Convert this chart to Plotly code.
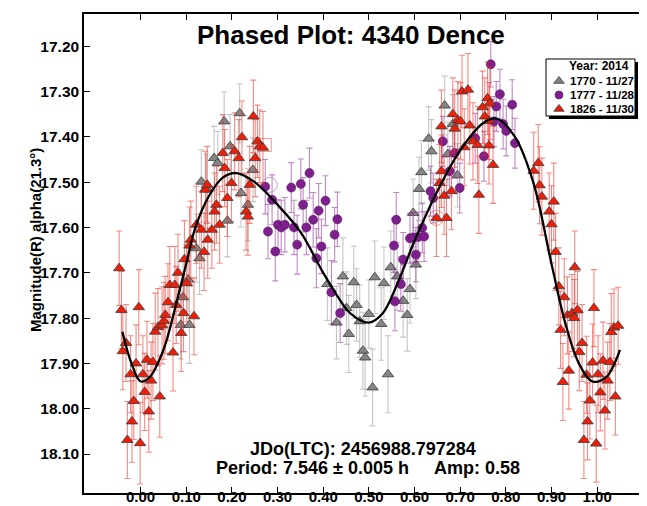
import plotly.graph_objects as go

# ---------------- data ----------------
gray_phase = [0.088, 0.093, 0.104, 0.107, 0.122, 0.129, 0.133, 0.144, 0.161, 0.169,
              0.183, 0.190, 0.196, 0.217, 0.220, 0.235, 0.246,
              0.409, 0.429, 0.443, 0.451, 0.456, 0.467, 0.473, 0.480, 0.487,
              0.492, 0.500, 0.508, 0.513, 0.527, 0.533, 0.542, 0.548, 0.562,
              0.575, 0.584, 0.590, 0.597, 0.603, 0.610, 0.615, 0.631, 0.637,
              0.666, 0.673, 0.684, 0.694]
gray_mag = [17.815, 17.754, 17.715, 17.815, 17.646, 17.668, 17.499, 17.513, 17.447, 17.458,
            17.366, 17.585, 17.421, 17.348, 17.524, 17.550, 17.473,
            17.725, 17.810, 17.708, 17.778, 17.835, 17.721, 17.771, 17.807, 17.872,
            17.887, 17.791, 17.953, 17.710, 17.813, 17.723, 17.924, 17.688, 17.708,
            17.762, 17.793, 17.736, 17.568, 17.682, 17.515, 17.478, 17.404, 17.432,
            17.331, 17.438, 17.372, 17.485]
gray_err = [0.075, 0.080, 0.070, 0.085, 0.075, 0.080, 0.070, 0.075, 0.070, 0.070,
            0.065, 0.080, 0.070, 0.065, 0.075, 0.080, 0.070,
            0.080, 0.080, 0.085, 0.080, 0.085, 0.080, 0.080, 0.080, 0.085,
            0.085, 0.075, 0.085, 0.080, 0.080, 0.080, 0.085, 0.080, 0.075,
            0.080, 0.080, 0.075, 0.075, 0.075, 0.070, 0.070, 0.070, 0.070,
            0.065, 0.070, 0.065, 0.070]

purple_phase = [0.273, 0.279, 0.288, 0.295, 0.301, 0.308, 0.316, 0.330, 0.336, 0.343,
                0.351, 0.356, 0.363, 0.370, 0.378, 0.385, 0.390, 0.396, 0.405, 0.418,
                0.425, 0.431, 0.437,
                0.555, 0.557, 0.560, 0.570, 0.575, 0.590, 0.597, 0.603, 0.608, 0.617,
                0.621, 0.635, 0.641, 0.662, 0.677, 0.688, 0.699, 0.733, 0.752, 0.767,
                0.774, 0.779, 0.787, 0.794, 0.801, 0.814, 0.820]
purple_mag = [17.510, 17.609, 17.539, 17.653, 17.594, 17.600, 17.594, 17.512, 17.600, 17.638,
              17.504, 17.550, 17.600, 17.480, 17.583, 17.668, 17.563, 17.642, 17.541, 17.743,
              17.616, 17.582, 17.789,
              17.640, 17.763, 17.583, 17.725, 17.671, 17.624, 17.622, 17.660, 17.621, 17.601,
              17.620, 17.520, 17.535, 17.410, 17.476, 17.436, 17.513, 17.403, 17.443, 17.240,
              17.366, 17.333, 17.306, 17.372, 17.387, 17.329, 17.414]
purple_err = [0.060, 0.060, 0.055, 0.065, 0.055, 0.060, 0.060, 0.055, 0.060, 0.065,
              0.055, 0.060, 0.060, 0.055, 0.060, 0.065, 0.060, 0.060, 0.055, 0.070,
              0.060, 0.060, 0.065,
              0.060, 0.065, 0.060, 0.060, 0.060, 0.055, 0.055, 0.060, 0.055, 0.055,
              0.055, 0.055, 0.055, 0.055, 0.055, 0.055, 0.055, 0.055, 0.055, 0.050,
              0.055, 0.055, 0.055, 0.055, 0.055, 0.055, 0.055]

red_phase = [-0.047, -0.042, -0.039, -0.032, -0.029, -0.022, -0.019, -0.015, -0.010, -0.004,
             -0.001, 0.005, 0.009, 0.014, 0.018, 0.023, 0.027, 0.032, 0.038, 0.042,
             0.047, 0.051, 0.054, 0.060, 0.064, 0.071, 0.075, 0.078, 0.082, 0.089,
             0.094, 0.096, 0.101, 0.107, 0.110, 0.117, 0.122, 0.133, 0.139, 0.142,
             0.146, 0.147, 0.156, 0.162, 0.166, 0.173, 0.180, 0.184, 0.190, 0.199,
             0.206, 0.215, 0.222, 0.231, 0.235, 0.239, 0.247, 0.251, 0.256, 0.261,
             0.268,
             0.648, 0.655, 0.659, 0.665, 0.670, 0.681, 0.659, 0.684, 0.688, 0.695,
             0.701, 0.704, 0.709, 0.717, 0.721, 0.728, 0.738, 0.741, 0.749, 0.754,
             0.760, 0.763, 0.765, 0.763, 0.772,
             0.861, 0.871, 0.874, 0.879, 0.895, 0.900, 0.905, 0.909, 0.916, 0.920,
             0.925, 0.928, 0.935, 0.938, 0.945, 0.950, 0.951, 0.957, 0.961, 0.967,
             0.971, 0.977, 0.979, 0.984, 0.990, 0.993, 0.998, 1.002, 1.007, 1.013,
             1.017, 1.023, 1.028, 1.031, 1.037, 1.040, 1.046]
red_mag = [17.690, 17.782, 17.873, 17.855, 18.069, 17.924, 18.028, 17.983, 17.900, 17.776,
           18.076, 17.924, 17.963, 17.892, 18.006, 17.938, 17.897, 17.830, 17.820, 17.973,
           17.816, 17.806, 17.793, 17.765, 17.727, 17.876, 17.727, 17.771, 17.700, 17.833,
           17.789, 17.670, 17.723, 17.640, 17.627, 17.796, 17.594, 17.605, 17.654, 17.517,
           17.506, 17.627, 17.605, 17.565, 17.550, 17.594, 17.436, 17.469, 17.535, 17.502,
           17.432, 17.447, 17.401, 17.565, 17.576, 17.506, 17.355, 17.447, 17.410, 17.421,
           17.424,
           17.579, 17.502, 17.476, 17.530, 17.579, 17.520, 17.377, 17.350, 17.382, 17.363,
           17.366, 17.300, 17.423, 17.296, 17.375, 17.410, 17.418, 17.528, 17.335, 17.355,
           17.315, 17.365, 17.326, 17.419, 17.462,
           17.475, 17.458, 17.507, 17.532, 17.565, 17.593, 17.543, 17.654, 17.730, 17.826,
           17.941, 17.754, 17.794, 17.916, 17.789, 17.800, 17.688, 17.782, 17.875, 17.855,
           18.069, 17.925, 18.028, 17.982, 17.898, 17.778, 18.077, 17.924, 17.964, 17.894,
           18.004, 17.938, 17.897, 17.831, 17.821, 17.973, 17.817]
red_err = [0.082, 0.085, 0.085, 0.085, 0.085, 0.085, 0.090, 0.085, 0.085, 0.083,
           0.090, 0.085, 0.085, 0.085, 0.090, 0.085, 0.085, 0.085, 0.085, 0.090,
           0.085, 0.085, 0.085, 0.085, 0.085, 0.085, 0.085, 0.085, 0.085, 0.085,
           0.085, 0.085, 0.085, 0.085, 0.085, 0.085, 0.085, 0.085, 0.085, 0.085,
           0.085, 0.085, 0.085, 0.085, 0.085, 0.085, 0.085, 0.085, 0.085, 0.085,
           0.085, 0.085, 0.080, 0.085, 0.085, 0.085, 0.080, 0.085, 0.080, 0.080,
           0.080,
           0.085, 0.085, 0.080, 0.085, 0.085, 0.085, 0.080, 0.080, 0.085, 0.085,
           0.085, 0.080, 0.085, 0.080, 0.085, 0.085, 0.085, 0.085, 0.080, 0.085,
           0.080, 0.085, 0.080, 0.085, 0.085,
           0.085, 0.085, 0.085, 0.085, 0.085, 0.085, 0.085, 0.085, 0.085, 0.085,
           0.085, 0.085, 0.085, 0.085, 0.085, 0.085, 0.080, 0.085, 0.085, 0.085,
           0.085, 0.085, 0.085, 0.085, 0.085, 0.085, 0.085, 0.085, 0.085, 0.085,
           0.085, 0.085, 0.085, 0.085, 0.085, 0.085, 0.085]

# highlighted (open) markers seen in the reference
hl_phase = [0.283, 0.648, 0.272]
hl_mag = [17.506, 17.579, 17.418]

fit_phase = [-0.04, -0.02, 0.00, 0.02, 0.05, 0.08, 0.10, 0.12, 0.15, 0.18, 0.21, 0.25,
             0.30, 0.35, 0.40, 0.43, 0.46, 0.50, 0.53, 0.56, 0.60, 0.65, 0.70, 0.75,
             0.78, 0.82, 0.86, 0.90, 0.93, 0.96, 0.99, 1.02, 1.05]
fit_mag = [17.83, 17.90, 17.94, 17.93, 17.87, 17.76, 17.68, 17.60, 17.53, 17.49, 17.48, 17.50,
           17.55, 17.61, 17.70, 17.75, 17.79, 17.81, 17.79, 17.73, 17.63, 17.52, 17.43, 17.37,
           17.36, 17.40, 17.50, 17.68, 17.81, 17.90, 17.94, 17.93, 17.87]

x_ticks = [0.0, 0.1, 0.2, 0.3, 0.4, 0.5, 0.6, 0.7, 0.8, 0.9, 1.0]
y_ticks = [17.2, 17.3, 17.4, 17.5, 17.6, 17.7, 17.8, 17.9, 18.0, 18.1]

series_names = ["1770 - 11/27", "1777 - 11/28", "1826 - 11/30"]
legend_title = "Year: 2014"
title_text = "Phased Plot: 4340 Dence"
ylabel = "Magnitude(R) alpha(21.3°)"
jd_text = "JDo(LTC): 2456988.797284"
period_text = "Period: 7.546 ± 0.005 h"
amp_text = "Amp: 0.58"

# ---------------- layout geometry ----------------
W, H = 647, 506
PL, PR, PT, PB = 76, 643, 6, 485
FONT = "Liberation Sans, Arial, sans-serif"


def px_x(p):
    return (p - PL) / (PR - PL)


def px_y(p):
    return 1 - (p - PT) / (PB - PT)


gray_fill, purple_fill, red_fill = "#858585", "#7e1f8e", "#f01e08"
gray_bar, purple_bar, red_bar = "rgba(150,150,150,0.55)", "rgba(140,40,150,0.55)", "rgba(235,40,30,0.55)"
outline = dict(color="#3a3a3a", width=0.8)

fig = go.Figure()

fig.add_trace(go.Scatter(
    x=gray_phase, y=gray_mag, mode="markers", name=series_names[0],
    marker=dict(symbol="triangle-up", size=10, color=gray_fill, line=outline),
    error_y=dict(type="data", array=gray_err, color=gray_bar, thickness=1.1, width=3),
))
fig.add_trace(go.Scatter(
    x=purple_phase, y=purple_mag, mode="markers", name=series_names[1],
    marker=dict(symbol="circle", size=9, color=purple_fill, line=dict(color="#5a105f", width=0.6)),
    error_y=dict(type="data", array=purple_err, color=purple_bar, thickness=1.1, width=3),
))
fig.add_trace(go.Scatter(
    x=red_phase, y=red_mag, mode="markers", name=series_names[2],
    marker=dict(symbol="triangle-up", size=10, color=red_fill, line=outline),
    error_y=dict(type="data", array=red_err, color=red_bar, thickness=1.1, width=3),
))
fig.add_trace(go.Scatter(
    x=hl_phase, y=hl_mag, mode="markers", showlegend=False, hoverinfo="skip",
    marker=dict(symbol=["circle-open", "circle-open", "square-open"], size=[15, 15, 13],
                color=["rgba(150,60,170,0.7)", "rgba(235,40,30,0.7)", "rgba(235,40,30,0.7)"],
                line=dict(width=1)),
))
fig.add_trace(go.Scatter(
    x=fit_phase, y=fit_mag, mode="lines", line=dict(color="black", width=2.3, shape="spline"),
    showlegend=False, hoverinfo="skip",
))

# ---------- manual legend ----------
LB_L, LB_R, LB_T, LB_B = 538, 627, 51, 108
leg_rows = [73, 87, 101]
leg_marker_x = 551
leg_text_x = 560
leg_styles = [
    dict(symbol="triangle-up", size=9, color=gray_fill, line=outline),
    dict(symbol="circle", size=8, color=purple_fill, line=dict(color="#5a105f", width=0.6)),
    dict(symbol="triangle-up", size=9, color=red_fill, line=outline),
]
for style, row in zip(leg_styles, leg_rows):
    fig.add_trace(go.Scatter(
        x=[px_x(leg_marker_x)], y=[px_y(row)], mode="markers", marker=style,
        xaxis="x2", yaxis="y2", showlegend=False, hoverinfo="skip",
    ))

shapes = [
    dict(type="rect", xref="paper", yref="paper", layer="below",
         x0=px_x(LB_L + 3), x1=px_x(LB_R + 3), y0=px_y(LB_B + 3), y1=px_y(LB_T + 3),
         fillcolor="black", line=dict(width=0)),
    dict(type="rect", xref="paper", yref="paper", layer="below",
         x0=px_x(LB_L), x1=px_x(LB_R), y0=px_y(LB_B), y1=px_y(LB_T),
         fillcolor="white", line=dict(color="black", width=1)),
]

ann_font = dict(family=FONT, color="black", weight="bold")
annotations = [
    dict(text=title_text, xref="paper", yref="paper", x=px_x(343), y=px_y(27),
         xanchor="center", yanchor="middle", showarrow=False, font=dict(ann_font, size=26)),
    dict(text=ylabel, xref="paper", yref="paper", x=px_x(27), y=px_y(232), textangle=-90,
         xanchor="center", yanchor="middle", showarrow=False, font=dict(ann_font, size=15)),
    dict(text=jd_text, xref="paper", yref="paper", x=px_x(355), y=px_y(441),
         xanchor="center", yanchor="middle", showarrow=False, font=dict(ann_font, size=18)),
    dict(text=period_text, xref="paper", yref="paper", x=px_x(206), y=px_y(460),
         xanchor="left", yanchor="middle", showarrow=False, font=dict(ann_font, size=18)),
    dict(text=amp_text, xref="paper", yref="paper", x=px_x(424), y=px_y(460),
         xanchor="left", yanchor="middle", showarrow=False, font=dict(ann_font, size=18)),
    dict(text=legend_title, xref="paper", yref="paper", x=px_x(591), y=px_y(58),
         xanchor="center", yanchor="middle", showarrow=False, font=dict(ann_font, size=12)),
]
for name, row in zip(series_names, leg_rows):
    annotations.append(dict(text=name, xref="paper", yref="paper", x=px_x(leg_text_x), y=px_y(row),
                            xanchor="left", yanchor="middle", showarrow=False,
                            font=dict(ann_font, size=11.5)))

xtickfont = dict(family=FONT, size=15, color="black", weight="bold")
ytickfont = dict(family=FONT, size=15.5, color="black", weight="bold")
fig.update_layout(
    width=W, height=H,
    margin=dict(l=PL, r=W - PR, t=PT, b=H - PB, autoexpand=False),
    paper_bgcolor="white", plot_bgcolor="white",
    showlegend=False,
    xaxis=dict(range=[-0.124, 1.118], tickvals=x_ticks, ticktext=[f"{v:.2f}" for v in x_ticks],
               ticks="inside", ticklen=6, tickwidth=1, tickcolor="black",
               showline=True, linecolor="black", linewidth=1.5, mirror="ticks",
               showgrid=False, zeroline=False, tickfont=xtickfont, ticklabelstandoff=-11),
    yaxis=dict(range=[18.186, 17.129], tickvals=y_ticks, ticktext=[f"{v:.2f}" for v in y_ticks],
               ticks="inside", ticklen=6, tickwidth=1, tickcolor="black",
               showline=True, linecolor="black", linewidth=1.5, mirror="ticks",
               showgrid=False, zeroline=False, tickfont=ytickfont),
    xaxis2=dict(range=[0, 1], domain=[0, 1], visible=False, overlaying="x", fixedrange=True),
    yaxis2=dict(range=[0, 1], domain=[0, 1], visible=False, overlaying="y", fixedrange=True),
    shapes=shapes,
    annotations=annotations,
)

fig.write_html("out.html")
